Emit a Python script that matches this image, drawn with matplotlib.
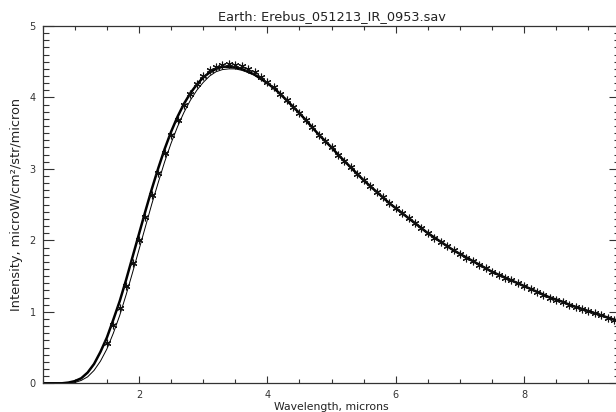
import numpy as np
import matplotlib
matplotlib.use("Agg")
import matplotlib.pyplot as plt
from matplotlib.ticker import MultipleLocator

# measured spectrum (asterisks)
wl_pts = [1.5, 1.6, 1.7, 1.8, 1.9, 2.0, 2.1, 2.2, 2.3, 2.4,
          2.5, 2.6, 2.7, 2.8, 2.9, 3.0, 3.1, 3.2, 3.3, 3.4,
          3.5, 3.6, 3.7, 3.8, 3.9, 4.0, 4.1, 4.2, 4.3, 4.4,
          4.5, 4.6, 4.7, 4.8, 4.9, 5.0, 5.1, 5.2, 5.3, 5.4,
          5.5, 5.6, 5.7, 5.8, 5.9, 6.0, 6.1, 6.2, 6.3, 6.4,
          6.5, 6.6, 6.7, 6.8, 6.9, 7.0, 7.1, 7.2, 7.3, 7.4,
          7.5, 7.6, 7.7, 7.8, 7.9, 8.0, 8.1, 8.2, 8.3, 8.4,
          8.5, 8.6, 8.7, 8.8, 8.9, 9.0, 9.1, 9.2, 9.3, 9.4, 9.5]
int_pts = [0.57, 0.82, 1.06, 1.36, 1.68, 2.00, 2.33, 2.64, 2.94, 3.22,
           3.47, 3.69, 3.89, 4.05, 4.19, 4.30, 4.38, 4.43, 4.46, 4.47,
           4.46, 4.44, 4.40, 4.35, 4.29, 4.22, 4.14, 4.05, 3.97, 3.87,
           3.78, 3.68, 3.58, 3.48, 3.39, 3.30, 3.20, 3.11, 3.02, 2.93,
           2.84, 2.76, 2.68, 2.60, 2.52, 2.45, 2.38, 2.31, 2.24, 2.17,
           2.10, 2.04, 1.98, 1.92, 1.86, 1.81, 1.76, 1.71, 1.66, 1.61,
           1.56, 1.52, 1.48, 1.44, 1.40, 1.36, 1.32, 1.28, 1.24, 1.20,
           1.17, 1.14, 1.10, 1.07, 1.04, 1.01, 0.98, 0.95, 0.92, 0.89, 0.87]

# model curves
wl_fit = [0.5, 0.6, 0.7, 0.8, 0.9, 1.0, 1.1, 1.2, 1.3, 1.4,
          1.5, 1.6, 1.7, 1.8, 1.9, 2.0, 2.1, 2.2, 2.3, 2.4,
          2.5, 2.6, 2.7, 2.8, 2.9, 3.0, 3.1, 3.2, 3.3, 3.4,
          3.5, 3.6, 3.7, 3.8, 3.9, 4.0, 4.1, 4.2, 4.3, 4.4,
          4.5, 4.6, 4.7, 4.8, 4.9, 5.0, 5.1, 5.2, 5.3, 5.4,
          5.5, 5.6, 5.7, 5.8, 5.9, 6.0, 6.1, 6.2, 6.3, 6.4,
          6.5, 6.6, 6.7, 6.8, 6.9, 7.0, 7.1, 7.2, 7.3, 7.4,
          7.5, 7.6, 7.7, 7.8, 7.9, 8.0, 8.1, 8.2, 8.3, 8.4,
          8.5, 8.6, 8.7, 8.8, 8.9, 9.0, 9.1, 9.2, 9.3, 9.4, 9.5]
fit_thick = [0.00, 0.00, 0.00, 0.00, 0.01, 0.03, 0.07, 0.15, 0.27, 0.44,
             0.64, 0.89, 1.15, 1.45, 1.77, 2.09, 2.41, 2.72, 3.01, 3.28,
             3.52, 3.73, 3.91, 4.06, 4.18, 4.28, 4.35, 4.40, 4.43, 4.43,
             4.42, 4.40, 4.36, 4.32, 4.26, 4.20, 4.13, 4.05, 3.96, 3.87,
             3.78, 3.68, 3.58, 3.48, 3.39, 3.30, 3.20, 3.11, 3.02, 2.93,
             2.84, 2.76, 2.68, 2.60, 2.52, 2.45, 2.38, 2.31, 2.24, 2.17,
             2.10, 2.04, 1.98, 1.92, 1.86, 1.81, 1.76, 1.71, 1.66, 1.61,
             1.56, 1.52, 1.48, 1.44, 1.40, 1.36, 1.32, 1.28, 1.24, 1.20,
             1.17, 1.14, 1.10, 1.07, 1.04, 1.01, 0.98, 0.95, 0.92, 0.89, 0.87]
fit_thin = [0.00, 0.00, 0.00, 0.00, 0.00, 0.01, 0.04, 0.09, 0.18, 0.31,
            0.48, 0.70, 0.95, 1.24, 1.55, 1.87, 2.19, 2.51, 2.81, 3.10,
            3.36, 3.59, 3.79, 3.96, 4.10, 4.21, 4.30, 4.36, 4.39, 4.40,
            4.40, 4.38, 4.35, 4.31, 4.26, 4.20, 4.13, 4.05, 3.96, 3.87,
            3.78, 3.68, 3.58, 3.48, 3.39, 3.30, 3.20, 3.11, 3.02, 2.93,
            2.84, 2.76, 2.68, 2.60, 2.52, 2.45, 2.38, 2.31, 2.24, 2.17,
            2.10, 2.04, 1.98, 1.92, 1.86, 1.81, 1.76, 1.71, 1.66, 1.61,
            1.56, 1.52, 1.48, 1.44, 1.40, 1.36, 1.32, 1.28, 1.24, 1.20,
            1.17, 1.14, 1.10, 1.07, 1.04, 1.01, 0.98, 0.95, 0.92, 0.89, 0.87]

plt.rcParams['font.family'] = ['DejaVu Sans']

fig = plt.figure(figsize=(6.16, 4.12), dpi=100)
# right edge of the plot box falls just outside the image, like the original
ax = fig.add_axes([0.0693, 0.0697, 0.938, 0.8672])

ax.plot(wl_fit, fit_thick, color='black', lw=1.8)
ax.plot(wl_fit, fit_thin, color='black', lw=0.7)
ax.plot(wl_pts, int_pts, linestyle='None', marker=(6, 2, 0), markersize=5.5,
        markeredgewidth=0.8, color='#111111')

ax.set_xlim(0.5, 9.5)
ax.set_ylim(0, 5)

ax.xaxis.set_major_locator(MultipleLocator(2))
ax.xaxis.set_minor_locator(MultipleLocator(0.5))
ax.yaxis.set_major_locator(MultipleLocator(1))
ax.yaxis.set_minor_locator(MultipleLocator(0.1))

ax.tick_params(axis='both', which='both', direction='in', top=True, right=True,
               colors='#333333', labelsize=7)
ax.tick_params(axis='x', which='major', length=5, width=0.8, pad=5)
ax.tick_params(axis='x', which='minor', length=3, width=0.8)
ax.tick_params(axis='y', which='major', length=8, width=0.8, pad=5)
ax.tick_params(axis='y', which='minor', length=4.3, width=0.8)

for s in ax.spines.values():
    s.set_color('#333333')
    s.set_linewidth(0.9)

ax.set_title('Earth: Erebus_051213_IR_0953.sav', fontsize=9.3, pad=4,
             color='#222222')
ax.set_xlabel('Wavelength, microns', fontsize=7.8, labelpad=1, color='#222222')
ax.set_ylabel('Intensity, microW/cm²/str/micron', fontsize=9.3, labelpad=5,
              color='#222222')

fig.savefig('out.png', dpi=100)
